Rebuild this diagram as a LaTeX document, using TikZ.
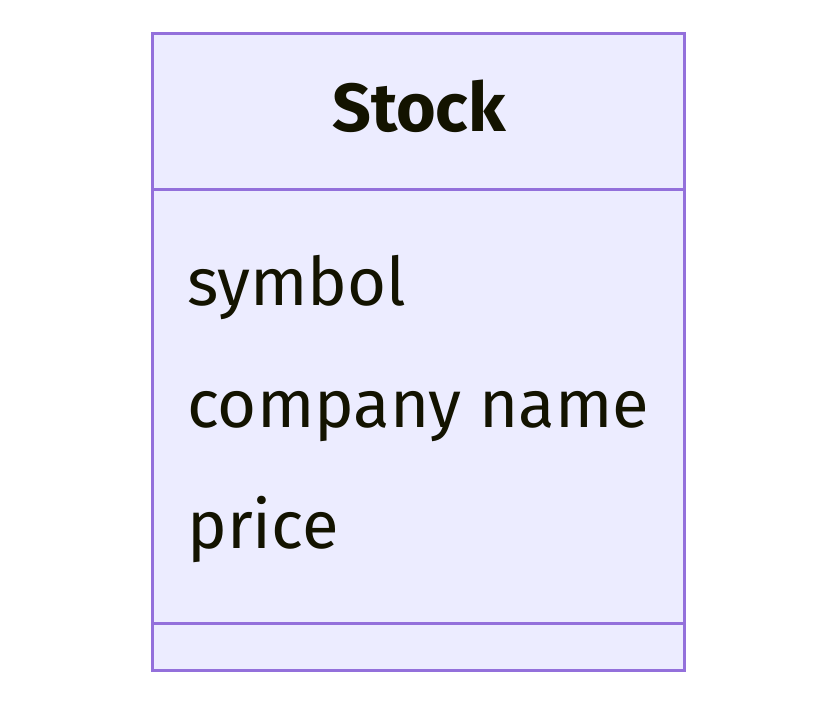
\documentclass[tikz,border=0pt]{standalone}
\usepackage{fontspec}
\setmainfont{Fira Sans}
\definecolor{classfill}{HTML}{ECECFF}
\definecolor{classline}{HTML}{9370DB}
\definecolor{classtext}{HTML}{131300}
\tikzset{
  classbox/.style={draw=classline, fill=classfill, line width=3pt},
  divider/.style={draw=classline, line width=3pt},
  classname/.style={anchor=base, inner sep=0pt, text=classtext,
    font=\fontsize{68}{68}\selectfont\bfseries},
  member/.style={anchor=base west, inner sep=0pt, text=classtext,
    font=\fontsize{67}{67}\selectfont}
}
\begin{document}
\begin{tikzpicture}[x=1pt,y=1pt]
\useasboundingbox (0,0) rectangle (837,-706);
% class box
\draw[classbox] (152,-34) rectangle (684,-670);
\coordinate (headL) at (152,-189);
\coordinate (headR) at (684,-189);
\coordinate (footL) at (152,-623);
\coordinate (footR) at (684,-623);
\draw[divider] (headL) -- (headR);
\draw[divider] (footL) -- (footR);
% name and attributes
\node[classname] (stock) at (419,-131.7) {Stock};
\node[member] (symbol) at (187,-305.6) {symbol};
\node[member] (company) at (187,-427) {company name};
\node[member] (price) at (187,-548) {price};
\end{tikzpicture}
\end{document}
